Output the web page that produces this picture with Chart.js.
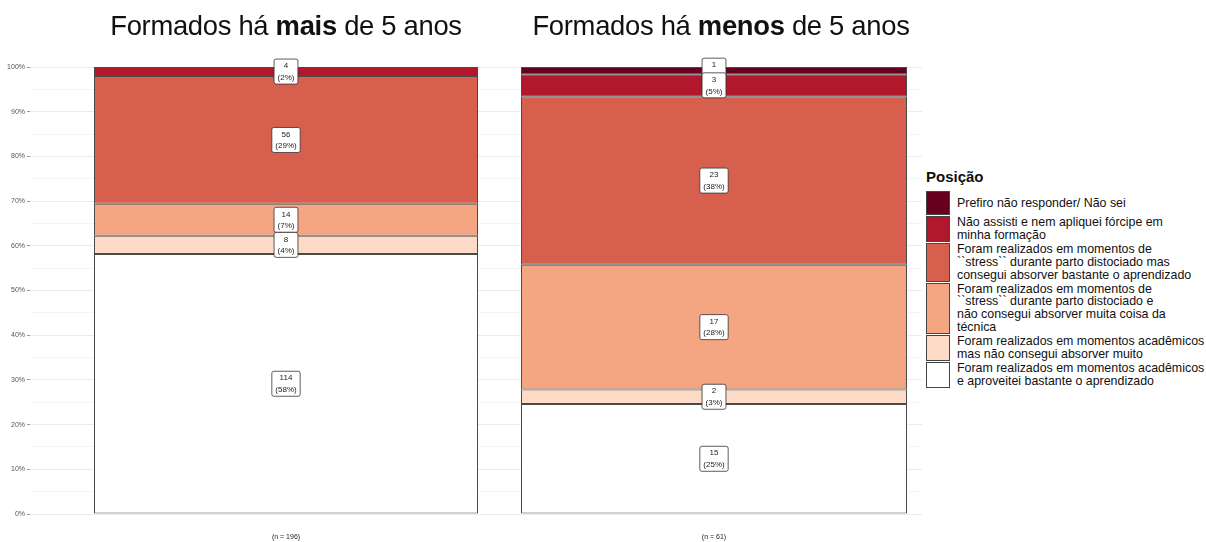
<!DOCTYPE html>
<html>
<head>
<meta charset="utf-8">
<script src="https://cdn.jsdelivr.net/npm/chart.js@4"></script>
<style>
  body { margin: 0; background: #fff; font-family: "Liberation Sans", Arial, sans-serif; }
  #wrap { position: relative; width: 1206px; height: 542px; overflow: hidden; }
  canvas { position: absolute; top: 0; }
  .title { position: absolute; top: 10px; width: 572px; text-align: center; font-size: 27.4px; color: #111; letter-spacing: -0.3px; }
  #legend { position: absolute; left: 926px; top: 168px; color: #111; }
  #legend h4 { margin: 0 0 6px 0; font-size: 15px; font-weight: bold; }
  .row { display: flex; align-items: stretch; margin-bottom: 1px; }
  .key { width: 22px; min-height: 22px; border: 1.5px solid #444; flex: none; }
  .lab { margin-left: 7px; font-size: 12.4px; line-height: 12.9px; white-space: pre-line; align-self: center; }
</style>
</head>
<body>
<div id="wrap">
  <canvas id="left" width="542" height="542" style="left:0"></canvas>
  <canvas id="right" width="416" height="542" style="left:506px"></canvas>
  <div class="title" style="left:0">Formados há <b>mais</b> de 5 anos</div>
  <div class="title" style="left:435px">Formados há <b>menos</b> de 5 anos</div>
  <div id="legend"><h4>Posição</h4></div>
</div>
<script>
// legend order, top to bottom
const categories = [
  "Prefiro não responder/ Não sei",
  "Não assisti e nem apliquei fórcipe em\nminha formação",
  "Foram realizados em momentos de\n``stress`` durante parto distociado mas\nconsegui absorver bastante o aprendizado",
  "Foram realizados em momentos de\n``stress`` durante parto distociado e\nnão consegui absorver muita coisa da\ntécnica",
  "Foram realizados em momentos acadêmicos\nmas não consegui absorver muito",
  "Foram realizados em momentos acadêmicos\ne aproveitei bastante o aprendizado"
];
const colors = ["#67001F", "#B2182B", "#D6604D", "#F4A582", "#FDDBC7", "#FFFFFF"];

const maisValues = [0, 4, 56, 14, 8, 114];
const menosValues = [1, 3, 23, 17, 2, 15];
const yTicks = [0, 10, 20, 30, 40, 50, 60, 70, 80, 90, 100];

// legend
const legend = document.getElementById("legend");
categories.forEach((c, i) => {
  const row = document.createElement("div");
  row.className = "row";
  row.innerHTML = `<div class="key" style="background:${colors[i]}"></div><div class="lab"></div>`;
  row.querySelector(".lab").textContent = c;
  legend.appendChild(row);
});

const labelPlugin = {
  id: "boxLabels",
  afterDatasetsDraw(chart) {
    const ctx = chart.ctx;
    const n = chart.$n;
    ctx.save();
    ctx.font = "8px 'Liberation Sans', Arial, sans-serif";
    ctx.textAlign = "center";
    ctx.textBaseline = "middle";
    // draw from top segment down so lower labels sit on top
    for (let d = chart.data.datasets.length - 1; d >= 0; d--) {
      const ds = chart.data.datasets[d];
      const v = ds.raw;
      if (!v) continue;
      const bar = chart.getDatasetMeta(d).data[0];
      const cx = bar.x, cy = (bar.y + bar.base) / 2;
      const lines = [String(v), "(" + Math.round(v / n * 100) + "%)"];
      const w = Math.max(...lines.map(t => ctx.measureText(t).width)) + 7;
      const h = 25;
      ctx.beginPath();
      ctx.roundRect(cx - w / 2, cy - h / 2, w, h, 2);
      ctx.fillStyle = "#fff";
      ctx.fill();
      ctx.strokeStyle = "#333";
      ctx.lineWidth = 0.8;
      ctx.stroke();
      ctx.fillStyle = "#222";
      ctx.fillText(lines[0], cx, cy - 5.5);
      ctx.fillText(lines[1], cx, cy + 6);
    }
    ctx.restore();
  }
};

function makeChart(id, values, showY, barPct) {
  const n = values.reduce((a, b) => a + b, 0);
  const datasets = [];
  for (let i = categories.length - 1; i >= 0; i--) {
    datasets.push({
      label: categories[i],
      raw: values[i],
      data: [values[i] / n * 100],
      backgroundColor: colors[i],
      borderColor: "#4a4a4a",
      borderWidth: 1,
      borderSkipped: false,
      clip: false,
      barPercentage: barPct,
      categoryPercentage: 1
    });
  }
  const chart = new Chart(document.getElementById(id), {
    type: "bar",
    data: { labels: ["(n = " + n + ")"], datasets },
    plugins: [labelPlugin],
    options: {
      responsive: false,
      animation: false,
      devicePixelRatio: 1,
      layout: { padding: { top: 67, bottom: 0, left: 0, right: 0 } },
      plugins: { legend: { display: false }, tooltip: { enabled: false } },
      scales: {
        x: {
          stacked: true,
          afterFit: s => { s.height = 28; },
          grid: { display: false, drawTicks: false },
          border: { display: false },
          ticks: { padding: 19, color: "#222", font: { size: 7, family: "'Liberation Sans', Arial" } }
        },
        y: {
          stacked: true,
          min: 0, max: 100,
          afterFit: s => { s.width = showY ? 30 : 0; },
          afterBuildTicks: s => {
            const t = [];
            for (let v = 0; v <= 100; v += 5) t.push({ value: v });
            s.ticks = t;
          },
          border: { display: false },
          grid: {
            color: c => yTicks.includes(c.tick.value) ? "#ebebeb" : "#f4f4f4",
            drawTicks: showY,
            tickLength: 3,
            tickColor: c => yTicks.includes(c.tick.value) ? "#999" : "rgba(0,0,0,0)"
          },
          ticks: {
            display: showY,
            padding: 2,
            color: "#555",
            font: { size: 7, family: "'Liberation Sans', Arial" },
            callback: v => yTicks.includes(v) ? v + "%" : ""
          }
        }
      }
    }
  });
  chart.$n = n;
  chart.draw();
  return chart;
}

makeChart("left", maisValues, true, 0.75);
makeChart("right", menosValues, false, 386 / 416);
</script>
</body>
</html>
